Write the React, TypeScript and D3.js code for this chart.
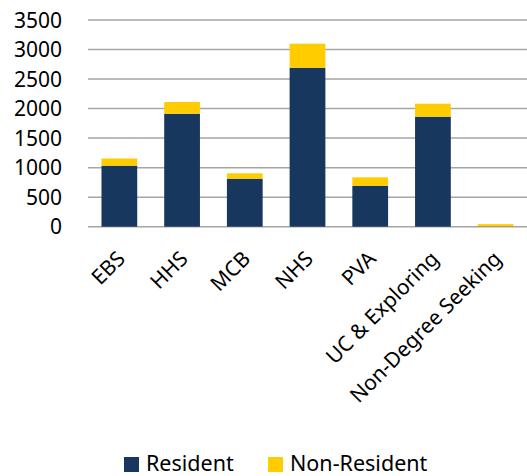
import React, { useEffect, useRef } from 'react';
import * as d3 from 'd3';

const categories = ['EBS', 'HHS', 'MCB', 'NHS', 'PVA', 'UC & Exploring', 'Non-Degree Seeking'];
const resident = [1033, 1913, 813, 2692, 694, 1863, 5];
const nonResident = [122, 198, 91, 407, 142, 220, 38];
const yTicks = [0, 500, 1000, 1500, 2000, 2500, 3000, 3500];
const seriesNames = ['Resident', 'Non-Resident'];
const colors = ['#17375e', '#ffcc00'];

const W = 527;
const H = 476;
const FONT = '"Noto Sans", sans-serif';

export default function App() {
  const svgRef = useRef<SVGSVGElement>(null);

  useEffect(() => {
    document.body.style.margin = '0';
    const svg = d3.select(svgRef.current);
    svg.selectAll('*').remove();

    const x = d3.scaleBand().domain(categories).range([88, 527]).paddingInner(0.43).paddingOuter(0.215);
    const y = d3.scaleLinear().domain([0, 3500]).range([226.7, 20]);

    // gridlines
    svg.append('g')
      .selectAll('line')
      .data(yTicks)
      .join('line')
      .attr('x1', 88)
      .attr('x2', 527)
      .attr('y1', d => y(d))
      .attr('y2', d => y(d))
      .attr('stroke', '#a6a6a6')
      .attr('stroke-width', 1.5);

    // y labels
    svg.append('g')
      .selectAll('text')
      .data(yTicks)
      .join('text')
      .attr('x', 62)
      .attr('y', d => y(d) + 7.5)
      .attr('text-anchor', 'end')
      .attr('font-family', FONT)
      .attr('font-size', 21)
      .attr('fill', '#000')
      .text(d => d);

    const stacked = d3.stack<number>()
      .keys(['0', '1'])
      .value((i, k) => (k === '0' ? resident[i] : nonResident[i]))(d3.range(categories.length));

    svg.append('g')
      .selectAll('g')
      .data(stacked)
      .join('g')
      .attr('fill', (d, i) => colors[i])
      .selectAll('rect')
      .data(d => d)
      .join('rect')
      .attr('x', d => x(categories[d.data])!)
      .attr('width', x.bandwidth())
      .attr('y', d => y(d[1]))
      .attr('height', d => y(d[0]) - y(d[1]));

    // x labels, rotated
    svg.append('g')
      .selectAll('text')
      .data(categories)
      .join('text')
      .attr('transform', d => `translate(${x(d)! + x.bandwidth() / 2 + 7},${260}) rotate(-45)`)
      .attr('text-anchor', 'end')
      .attr('font-family', FONT)
      .attr('font-size', 21)
      .attr('fill', '#000')
      .text(d => d);

    // legend
    const legend = svg.append('g');
    const lx = [124, 268];
    seriesNames.forEach((name, i) => {
      legend.append('rect')
        .attr('x', lx[i])
        .attr('y', 457)
        .attr('width', 15)
        .attr('height', 15)
        .attr('fill', colors[i]);
      legend.append('text')
        .attr('x', lx[i] + 22)
        .attr('y', 471)
        .attr('font-family', FONT)
        .attr('font-size', 21.5)
        .attr('fill', '#000')
        .text(name);
    });
  }, []);

  return <svg ref={svgRef} width={W} height={H} style={{ display: 'block' }} />;
}
